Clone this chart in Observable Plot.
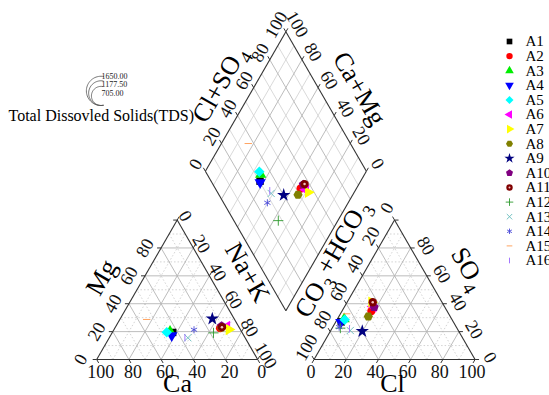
<!DOCTYPE html>
<html><head><meta charset="utf-8">
<script src="https://cdn.jsdelivr.net/npm/d3@7"></script>
<script src="https://cdn.jsdelivr.net/npm/@observablehq/plot@0.6"></script>
<style>
body{margin:0;background:#fff;}
#chart{width:549px;height:395px;overflow:hidden;}
</style></head><body><div id="chart"></div>
<script>
// ---------------- data ----------------
const samples = ["A1","A2","A3","A4","A5","A6","A7","A8","A9","A10","A11","A12","A13","A14","A15","A16"];
// cations (% meq)
const caPct  = [43.1, 12.1, 44.4, 44.8, 46.7,  7.3,  7.1, 11.0, 13.6, 10.4, 10.6, 17.9, 35.6, 28.9, 54.6, 37.4];
const mgPct  = [19.4, 22.5, 20.1, 17.2, 19.6, 23.7, 21.5, 23.0, 29.2, 24.0, 23.2, 19.1, 15.6, 21.3, 28.7, 15.6];
const nakPct = [37.5, 65.4, 35.5, 38.0, 33.7, 69.0, 71.4, 66.0, 57.2, 65.6, 66.2, 63.0, 48.8, 49.8, 16.7, 47.0];
// anions (% meq)
const clPct   = [ 3.4, 18.3,  4.2,  3.3,  4.8, 17.7, 15.2, 18.3, 19.8, 18.6, 15.9,  5.1, 12.1,  4.0,  3.8, 11.0];
const so4Pct  = [27.0, 34.7, 29.0, 26.7, 28.5, 38.0, 41.1, 30.8, 20.3, 37.5, 41.1, 22.5, 20.8, 23.2, 32.8, 22.0];
const hco3Pct = [69.6, 47.0, 66.8, 70.0, 66.7, 44.3, 43.7, 50.9, 59.9, 43.9, 43.0, 72.4, 67.1, 72.8, 63.4, 67.0];
const tdsLegendValues = [1650.00, 1177.50, 705.00];
const tickValues = [0, 20, 40, 60, 80, 100];
const sampleColors = ["#000000","#ff0000","#00ee00","#0000ff","#00ffff","#ff00ff","#ffff00","#808000","#000080","#800080","#800000","#2e9a2e","#66bbbb","#4a4ad8","#ff9a50","#9966ff"];
const sampleSymbols = ["square","circle","triUp","triDown","diamond","triLeft","triRight","hexagon","star","pentagon","sphere","plus","times","asterisk","dash","bar"];

// ---------------- geometry ----------------
const s3 = Math.sqrt(3) / 2;
const GAP = 35;                      // gap between triangles (ternary units)
const K = 1.61, X0 = 96.2, Y0 = 359; // px per unit, px origin
const ux = px => (px - X0) / K, uy = py => (Y0 - py) / K;
const cat = (n, m) => [n + m / 2, m * s3];
const an = (cl, s) => [100 + GAP + cl + s / 2, s * s3];
const dia = (n, c) => { const t = 200 + GAP - c - n; return [n + t / 2, t * s3]; };

const serif = "'Liberation Serif','Times New Roman',serif";

// grid lines
const grid = [];
function triGrid(P, v, kind) {
  grid.push({a: P(v, 0), b: P(v, 100 - v), kind});
  grid.push({a: P(0, v), b: P(100 - v, v), kind});
  grid.push({a: P(100 - v, 0), b: P(0, 100 - v), kind});
}
for (let v = 10; v < 100; v += 10) {
  const kind = v % 20 === 0 ? "major" : "minor";
  triGrid(cat, v, kind);
  triGrid(an, v, kind);
  grid.push({a: dia(v, 100), b: dia(v, 0), kind: "dia" + kind});
  grid.push({a: dia(0, v), b: dia(100, v), kind: "dia" + kind});
}
const outline = [
  [cat(0,0), cat(100,0)], [cat(100,0), cat(0,100)], [cat(0,100), cat(0,0)],
  [an(0,0), an(100,0)], [an(100,0), an(0,100)], [an(0,100), an(0,0)],
  [dia(0,100), dia(0,0)], [dia(0,0), dia(100,0)], [dia(100,0), dia(100,100)], [dia(100,100), dia(0,100)]
].map(([a, b]) => ({a, b}));

// ticks
const ticks = [];
function addTicks(pts, dirx, diry, len = 4) {
  for (const p of pts) ticks.push({a: p, b: [p[0] + dirx * len / K, p[1] - diry * len / K]});
}
addTicks(tickValues.map(v => cat(100 - v, 0)), 0.5, 0.866);
addTicks(tickValues.map(v => cat(0, v)), -1, 0);
addTicks(tickValues.map(v => cat(v, 100 - v)), 0.5, -0.866);
addTicks(tickValues.map(v => an(v, 0)), -0.5, 0.866);
addTicks(tickValues.map(v => an(100 - v, v)), 1, 0);
addTicks(tickValues.map(v => an(0, 100 - v)), -0.5, -0.866);
addTicks(tickValues.map(v => dia(0, 100 - v)), -0.5, -0.866);
addTicks(tickValues.map(v => dia(100 - v, 0)), 0.5, -0.866);

function tickLabels(vals, P, opts) {
  return Plot.text(vals, {x: v => P(v)[0], y: v => P(v)[1], text: v => String(v),
    fontSize: 18, fontFamily: serif, fill: "#111", ...opts});
}

// custom symbols
const poly = (n, rot) => ({draw(ctx, size) {
  const R = Math.sqrt(size / (n / 2 * Math.sin(2 * Math.PI / n)));
  for (let k = 0; k < n; k++) { const a = rot + 2 * Math.PI * k / n;
    const x = R * Math.cos(a), y = R * Math.sin(a); k ? ctx.lineTo(x, y) : ctx.moveTo(x, y); }
  ctx.closePath(); }});
const lineSym = (horiz) => ({draw(ctx, size) { const r = Math.sqrt(size / Math.PI) * 1.1;
  if (horiz) { ctx.moveTo(-r, 0); ctx.lineTo(r, 0); } else { ctx.moveTo(0, -r); ctx.lineTo(0, r); } }});
const symDefs = {
  square: {s: "square", fill: true}, circle: {s: "circle", fill: true},
  triUp: {s: poly(3, -Math.PI/2), fill: true}, triDown: {s: poly(3, Math.PI/2), fill: true},
  diamond: {s: poly(4, 0), fill: true}, triLeft: {s: poly(3, Math.PI), fill: true},
  triRight: {s: poly(3, 0), fill: true}, hexagon: {s: poly(6, 0), fill: true},
  star: {s: "star", fill: true}, pentagon: {s: poly(5, -Math.PI/2), fill: true},
  sphere: {s: "circle", fill: true}, plus: {s: "plus", fill: false},
  times: {s: "times", fill: false}, asterisk: {s: "asterisk", fill: false},
  dash: {s: lineSym(true), fill: false}, bar: {s: lineSym(false), fill: false}
};
function dotMark(pts, i, r) {
  const d = symDefs[sampleSymbols[i]], c = sampleColors[i];
  const rr = d.fill ? r : r * 0.8;
  const marks = [Plot.dot(pts, {x: p => p[0], y: p => p[1], r: rr, symbol: d.s,
    fill: d.fill ? c : "none", stroke: d.fill ? "none" : c, strokeWidth: 0.9})];
  if (sampleSymbols[i] === "sphere")
    marks.push(Plot.dot(pts, {x: p => p[0], y: p => p[1], r: r * 0.3, fill: "#f0c0c0", stroke: "none"}));
  return marks;
}

const pointMarks = [];
const legendMarks = [];
samples.forEach((name, i) => {
  const pts = [cat(nakPct[i], mgPct[i]), an(clPct[i], so4Pct[i]), dia(nakPct[i], hco3Pct[i])];
  pointMarks.push(...dotMark(pts, i, 4.2));
  const ly = 41 + 14.6 * i;
  legendMarks.push(...dotMark([[ux(509), uy(ly)]], i, 3.2));
  legendMarks.push(Plot.text([name], {x: ux(525), y: uy(ly), text: d => d, textAnchor: "start",
    fontSize: 15, fontFamily: serif, fill: "#000"}));
});

// TDS bubble legend
const tdsArcs = [];
const cx = 100.5, cBottom = 105;
tdsLegendValues.forEach((v, j) => {
  const r = 0.36 * Math.sqrt(v), cy = cBottom - r;
  for (let a = 80; a <= 280; a += 5) {
    const rad = a * Math.PI / 180;
    tdsArcs.push({x: ux(cx + r * Math.cos(rad)), y: uy(cy - r * Math.sin(rad)), k: j});
  }
});
const tdsLabelY = [75.5, 84, 92.5];
const tdsText = tdsLegendValues.map((v, j) => ({v, y: tdsLabelY[j]}));

const titles = [
  {t: "Mg", x: 101, y: 277, r: -60}, {t: "Ca", x: 177, y: 383, r: 0},
  {t: "Na+K", x: 247, y: 272, r: 60}, {t: "CO_3+HCO_3", x: 333, y: 259, r: -60},
  {t: "SO_4", x: 468, y: 268, r: 60}, {t: "Cl", x: 392, y: 383, r: 0},
  {t: "Cl+SO_4", x: 219, y: 84, r: -60}, {t: "Ca+Mg", x: 359, y: 88, r: 60}
];

const chart = Plot.plot({
  width: 549, height: 395, margin: 0,
  x: {domain: [ux(0), ux(549)], range: [0, 549], axis: null},
  y: {domain: [uy(395), uy(0)], range: [395, 0], axis: null},
  style: {background: "#fff", fontFamily: serif, overflow: "hidden"},
  marks: [
    Plot.link(grid.filter(g => g.kind === "minor"), {x1: g => g.a[0], y1: g => g.a[1], x2: g => g.b[0], y2: g => g.b[1], stroke: "#c8c8c8", strokeWidth: 0.8, strokeDasharray: "1.5,2"}),
    Plot.link(grid.filter(g => g.kind === "major"), {x1: g => g.a[0], y1: g => g.a[1], x2: g => g.b[0], y2: g => g.b[1], stroke: "#b4b4b4", strokeWidth: 0.9}),
    Plot.link(grid.filter(g => g.kind === "diaminor"), {x1: g => g.a[0], y1: g => g.a[1], x2: g => g.b[0], y2: g => g.b[1], stroke: "#cfcfcf", strokeWidth: 0.8}),
    Plot.link(grid.filter(g => g.kind === "diamajor"), {x1: g => g.a[0], y1: g => g.a[1], x2: g => g.b[0], y2: g => g.b[1], stroke: "#b4b4b4", strokeWidth: 0.9}),
    Plot.link(outline, {x1: g => g.a[0], y1: g => g.a[1], x2: g => g.b[0], y2: g => g.b[1], stroke: "#333", strokeWidth: 1.1}),
    Plot.link(ticks, {x1: g => g.a[0], y1: g => g.a[1], x2: g => g.b[0], y2: g => g.b[1], stroke: "#333", strokeWidth: 1}),
    tickLabels(tickValues, v => cat(100 - v, 0), {dx: 4, dy: 13}),
    tickLabels(tickValues.slice(0, 5), v => cat(0, v), {dx: -16, dy: 0, rotate: -60}),
    tickLabels(tickValues, v => cat(v, 100 - v), {dx: 8, dy: -4, rotate: 60}),
    tickLabels(tickValues, v => an(v, 0), {dx: -3, dy: 13}),
    tickLabels(tickValues.slice(0, 5), v => an(100 - v, v), {dx: 15, dy: -2, rotate: 60}),
    tickLabels(tickValues, v => an(0, 100 - v), {dx: -7.5, dy: -12, rotate: -60}),
    tickLabels(tickValues, v => dia(0, 100 - v), {dx: -9.5, dy: -7, rotate: -60}),
    tickLabels(tickValues, v => dia(100 - v, 0), {dx: 11, dy: -7.5, rotate: 60}),
    ...titles.map(t => Plot.text([t], {x: d => ux(d.x), y: d => uy(d.y), text: d => d.t, rotate: t.r,
      fontSize: 26, fontFamily: serif, fill: "#000"})),
    ...pointMarks,
    ...legendMarks,
    Plot.line(tdsArcs, {x: "x", y: "y", z: "k", stroke: "#555", strokeWidth: 0.8}),
    Plot.text(tdsText, {x: ux(101), y: d => uy(d.y), text: d => d.v.toFixed(2), textAnchor: "start",
      fontSize: 8, fontFamily: serif, fill: "#222"}),
    Plot.text(["Total Dissovled Solids(TDS)"], {x: ux(8), y: uy(115.5), text: d => d, textAnchor: "start",
      fontSize: 16, fontFamily: serif, fill: "#000"})
  ]
});
document.getElementById("chart").appendChild(chart);

// subscripts: "X_3" -> X with subscript 3
d3.select(chart).selectAll("text").each(function() {
  const el = this;
  if (el.children.length === 0 && el.textContent.includes("_")) {
    const parts = el.textContent.split(/_(\d)/);
    el.textContent = "";
    parts.forEach((p, k) => {
      if (!p) return;
      const ts = d3.select(el).append("tspan").text(p);
      if (k % 2 === 1) ts.attr("font-size", "0.7em").attr("dy", "0.4em").attr("dx", "0.08em");
      else if (k > 0) ts.attr("dy", "-0.4em").attr("dx", "0.08em");
    });
  }
});
</script></body></html>
